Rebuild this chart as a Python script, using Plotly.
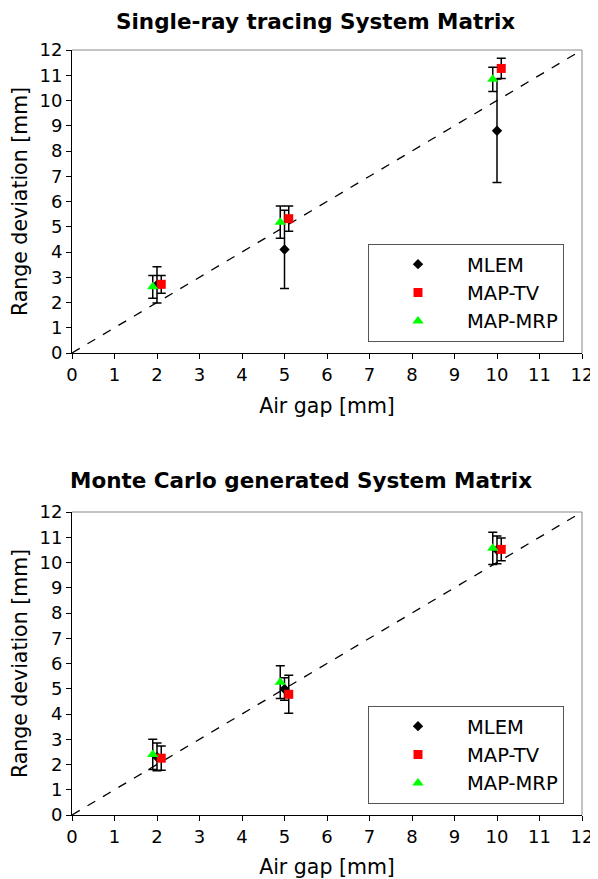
import plotly.graph_objects as go

FONT = "DejaVu Sans"

air_gap = [2, 5, 10]
series_names = ["MLEM", "MAP-TV", "MAP-MRP"]
x_offsets = [0.0, 0.1, -0.1]

# Single-ray tracing System Matrix
top_mlem = [2.7, 4.1, 8.8]
top_mlem_err = [0.72, 1.55, 2.05]
top_tv = [2.72, 5.32, 11.27]
top_tv_err = [0.35, 0.5, 0.4]
top_mrp = [2.62, 5.18, 10.84]
top_mrp_err = [0.45, 0.64, 0.48]

# Monte Carlo generated System Matrix
bot_mlem = [2.3, 4.99, 10.5]
bot_mlem_err = [0.55, 0.45, 0.55]
bot_tv = [2.25, 4.78, 10.52]
bot_tv_err = [0.48, 0.75, 0.45]
bot_mrp = [2.4, 5.26, 10.56]
bot_mrp_err = [0.6, 0.65, 0.64]

tick_vals = list(range(0, 13))
identity = [0, 12]

colors = ["black", "#ff0000", "#00ff00"]
symbols = ["diamond", "square", "triangle-up"]
sizes = [8, 9, 10]

fig = go.Figure()

panels = [
    ("x", "y", "legend", [top_mlem, top_tv, top_mrp], [top_mlem_err, top_tv_err, top_mrp_err]),
    ("x2", "y2", "legend2", [bot_mlem, bot_tv, bot_mrp], [bot_mlem_err, bot_tv_err, bot_mrp_err]),
]

for xa, ya, leg, vals, errs in panels:
    fig.add_trace(go.Scatter(x=identity, y=identity, mode="lines",
                             line=dict(color="black", width=1.3, dash="dash"),
                             showlegend=False, xaxis=xa, yaxis=ya, hoverinfo="skip"))
    for i in range(3):
        xs = [g + x_offsets[i] for g in air_gap]
        fig.add_trace(go.Scatter(
            x=xs, y=vals[i], mode="markers", name=series_names[i],
            marker=dict(color=colors[i], symbol=symbols[i], size=sizes[i]),
            error_y=dict(type="data", array=errs[i], visible=True,
                         color="black", thickness=1.5, width=4.5),
            xaxis=xa, yaxis=ya, legend=leg))

axis_common = dict(range=[0, 12], tickvals=tick_vals, ticks="outside", ticklen=5,
                   tickcolor="black", showline=True, linecolor="black", linewidth=1,
                   showgrid=False, zeroline=False, mirror=False, automargin=False,
                   tickfont=dict(family=FONT, size=18, color="black"))

TITLE_FONT = dict(family=FONT, size=20.5, color="black")

# the page puts the figure 8 px in from the top-left corner
OFF = 8
W, H = 598 - OFF, 879 - OFF


def px_x(v):
    return (v - OFF) / W


def px_y(v):
    return 1 - (v - OFF) / H


x_dom = [px_x(72), px_x(582)]
top_dom = [px_y(353), px_y(50)]
bot_dom = [px_y(815), px_y(512)]

legend_common = dict(font=dict(family=FONT, size=19.5, color="black"),
                     bordercolor="#555555", borderwidth=1, bgcolor="white",
                     xanchor="left", yanchor="top", itemwidth=88, tracegroupgap=0)

fig.update_layout(
    width=W, height=H,
    margin=dict(l=0, r=0, t=0, b=0),
    paper_bgcolor="white", plot_bgcolor="white",
    font=dict(family=FONT, color="black"),
    xaxis=dict(domain=x_dom, anchor="y", title=dict(text="Air gap [mm]", font=TITLE_FONT, standoff=15), **axis_common),
    yaxis=dict(domain=top_dom, anchor="x", title=dict(text="Range deviation [mm]", font=TITLE_FONT, standoff=6), **axis_common),
    xaxis2=dict(domain=x_dom, anchor="y2", title=dict(text="Air gap [mm]", font=TITLE_FONT, standoff=15), **axis_common),
    yaxis2=dict(domain=bot_dom, anchor="x2", title=dict(text="Range deviation [mm]", font=TITLE_FONT, standoff=6), **axis_common),
    legend=dict(x=px_x(368), y=px_y(244), **legend_common),
    legend2=dict(x=px_x(368), y=px_y(706), **legend_common),
    shapes=[
        dict(type="line", xref="x domain", yref="y domain", x0=0, x1=1, y0=1, y1=1, line=dict(color="#888888", width=1)),
        dict(type="line", xref="x domain", yref="y domain", x0=1, x1=1, y0=0, y1=1, line=dict(color="#888888", width=1)),
        dict(type="line", xref="x2 domain", yref="y2 domain", x0=0, x1=1, y0=1, y1=1, line=dict(color="#888888", width=1)),
        dict(type="line", xref="x2 domain", yref="y2 domain", x0=1, x1=1, y0=0, y1=1, line=dict(color="#888888", width=1)),
    ],
    annotations=[
        dict(text="<b>Single-ray tracing System Matrix</b>", xref="paper", yref="paper",
             x=px_x(315), y=1.0, showarrow=False, xanchor="center", yanchor="top",
             borderpad=0, font=dict(family=FONT, size=21.5, color="black")),
        dict(text="<b>Monte Carlo generated System Matrix</b>", xref="paper", yref="paper",
             x=px_x(301), y=px_y(480), showarrow=False, xanchor="center", yanchor="middle",
             font=dict(family=FONT, size=21.5, color="black")),
    ],
)

fig.write_html("out.html")
